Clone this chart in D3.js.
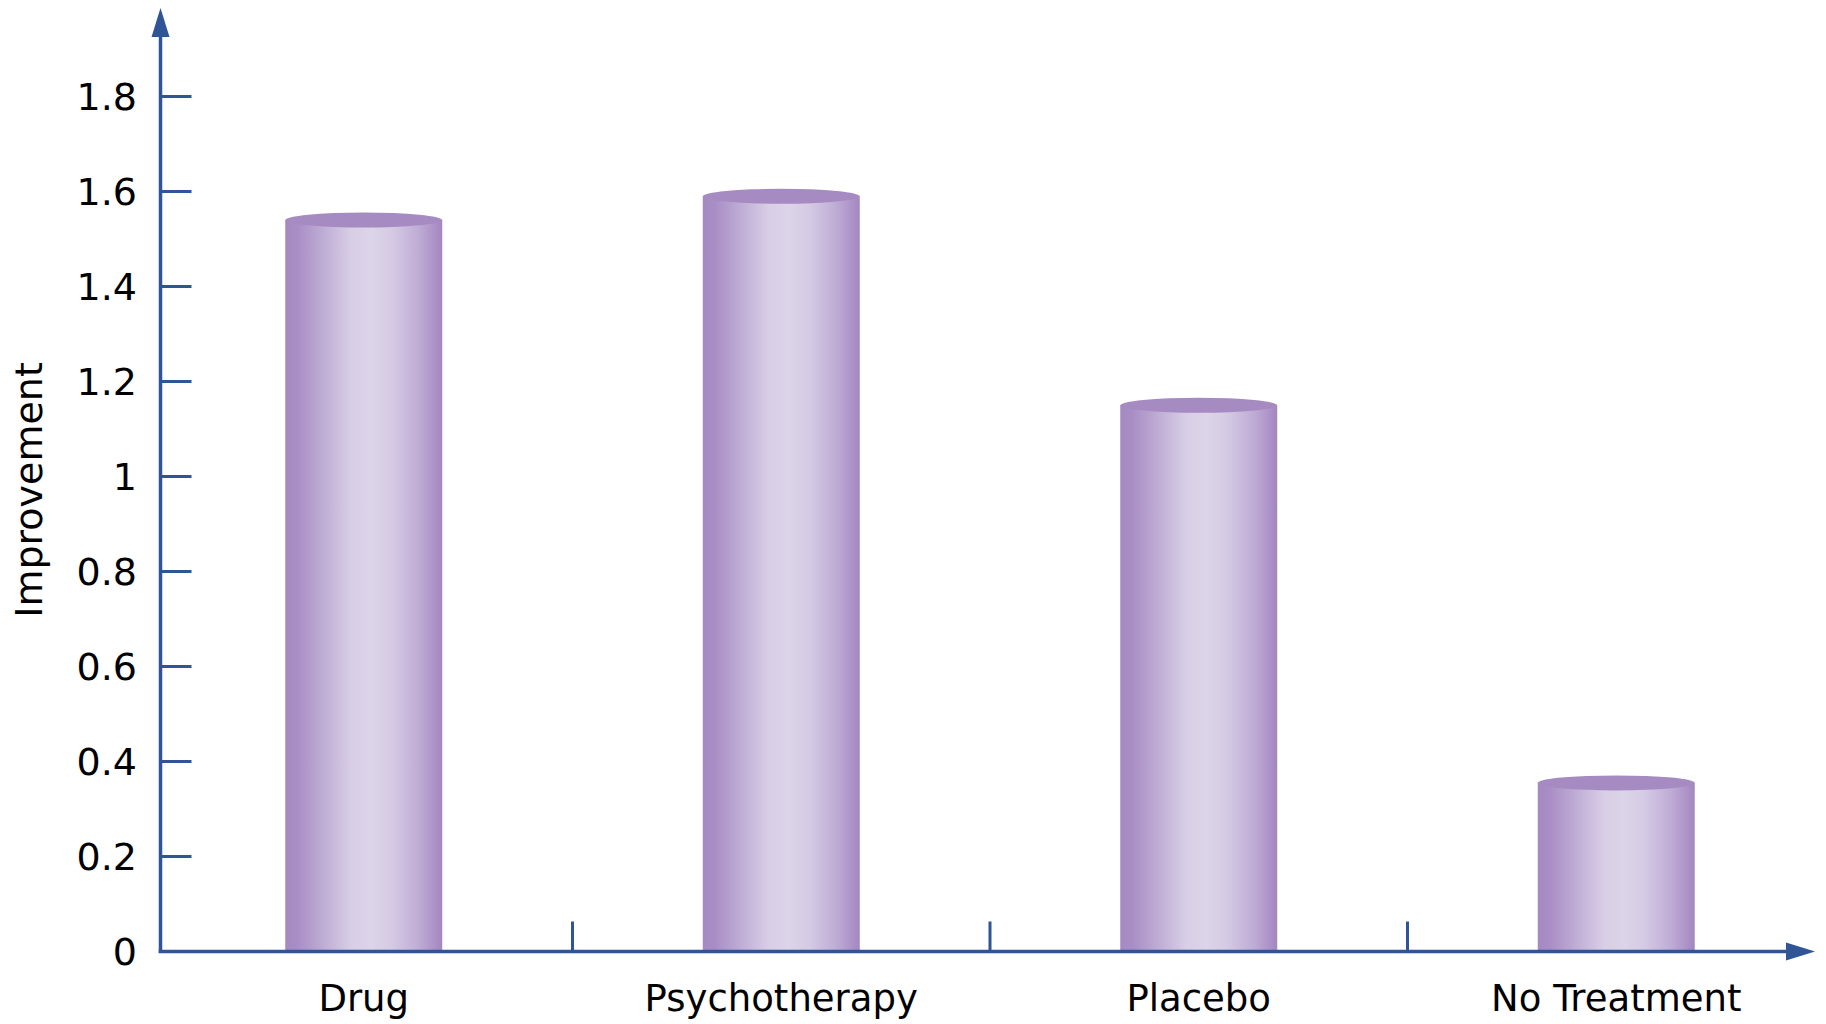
<!DOCTYPE html>
<html>
<head>
<meta charset="utf-8">
<script src="https://cdn.jsdelivr.net/npm/d3@7"></script>
<style>
  html, body { margin: 0; padding: 0; background: #fff; }
  svg { display: block; }
  text { font-family: "DejaVu Sans", Verdana, sans-serif; fill: #000; }
</style>
</head>
<body>
<script>
// Mean improvement by treatment group
const categories = ["Drug", "Psychotherapy", "Placebo", "No Treatment"];
const improvement = [1.54, 1.59, 1.15, 0.355];
const yTicks = [0, 0.2, 0.4, 0.6, 0.8, 1, 1.2, 1.4, 1.6, 1.8];
const yTitle = "Improvement";

const W = 1826, H = 1024;
const axisColor = "#2f5597";
const x0 = 160.5, y0 = 951.5;

const svg = d3.select("body").append("svg")
  .attr("width", W).attr("height", H);

const defs = svg.append("defs");
const grad = defs.append("linearGradient")
  .attr("id", "cyl").attr("x1", "0").attr("x2", "1").attr("y1", "0").attr("y2", "0");
[
  [0, "#a589c2"], [0.08, "#a98ec5"], [0.25, "#c0aed6"], [0.42, "#d8cee6"],
  [0.55, "#dcd4e8"], [0.68, "#d5cae4"], [0.85, "#bfacd5"], [1, "#a386c1"]
].forEach(([o, c]) => grad.append("stop").attr("offset", o).attr("stop-color", c));

const y = d3.scaleLinear().domain([0, 1.8]).range([y0, 96.5]);
const x = d3.scaleBand().domain(categories).range([155, 1825])
  .paddingInner(0.624).paddingOuter(0.312);
const step = x.step(), bw = x.bandwidth();

// Bars as cylinders: gradient body plus flat top cap
const bars = svg.append("g").selectAll("g").data(categories).join("g");
bars.append("rect")
  .attr("x", d => x(d))
  .attr("y", (d, i) => y(improvement[i]))
  .attr("width", bw)
  .attr("height", (d, i) => y(0) - y(improvement[i]))
  .attr("fill", "url(#cyl)");
bars.append("ellipse")
  .attr("cx", d => x(d) + bw / 2)
  .attr("cy", (d, i) => y(improvement[i]))
  .attr("rx", bw / 2)
  .attr("ry", 7.5)
  .attr("fill", "#a68bc2");

// Y axis with inward ticks
const yAxis = svg.append("g");
yAxis.append("line")
  .attr("x1", x0).attr("x2", x0).attr("y1", y0 + 1.5).attr("y2", 30)
  .attr("stroke", axisColor).attr("stroke-width", 3.5);
yAxis.append("path")
  .attr("d", `M${x0},8 L${x0 - 9},37 L${x0 + 9},37 Z`)
  .attr("fill", axisColor);
yAxis.selectAll("line.tick").data(yTicks.filter(t => t > 0)).join("line")
  .attr("class", "tick")
  .attr("x1", x0).attr("x2", 191.5)
  .attr("y1", d => y(d)).attr("y2", d => y(d))
  .attr("stroke", axisColor).attr("stroke-width", 3);
yAxis.selectAll("text").data(yTicks).join("text")
  .attr("x", 137).attr("y", d => y(d))
  .attr("dy", "0.36em")
  .attr("text-anchor", "end")
  .attr("font-size", 38)
  .text(d => d3.format("")(d));

// X axis with category separators
const xAxis = svg.append("g");
xAxis.append("line")
  .attr("x1", x0 - 1.75).attr("x2", 1792).attr("y1", y0).attr("y2", y0)
  .attr("stroke", axisColor).attr("stroke-width", 3.5);
xAxis.append("path")
  .attr("d", `M1815,${y0} L1786,${y0 - 9} L1786,${y0 + 9} Z`)
  .attr("fill", axisColor);
xAxis.selectAll("line.sep").data(categories.slice(0, -1)).join("line")
  .attr("class", "sep")
  .attr("x1", d => x(d) + bw / 2 + step / 2)
  .attr("x2", d => x(d) + bw / 2 + step / 2)
  .attr("y1", y0).attr("y2", y0 - 30)
  .attr("stroke", axisColor).attr("stroke-width", 3);
xAxis.selectAll("text").data(categories).join("text")
  .attr("x", d => x(d) + bw / 2)
  .attr("y", 1011)
  .attr("text-anchor", "middle")
  .attr("font-size", 37)
  .text(d => d);

// Y axis title
svg.append("text")
  .attr("transform", "translate(42,490) rotate(-90)")
  .attr("text-anchor", "middle")
  .attr("font-size", 38)
  .text(yTitle);
</script>
</body>
</html>
